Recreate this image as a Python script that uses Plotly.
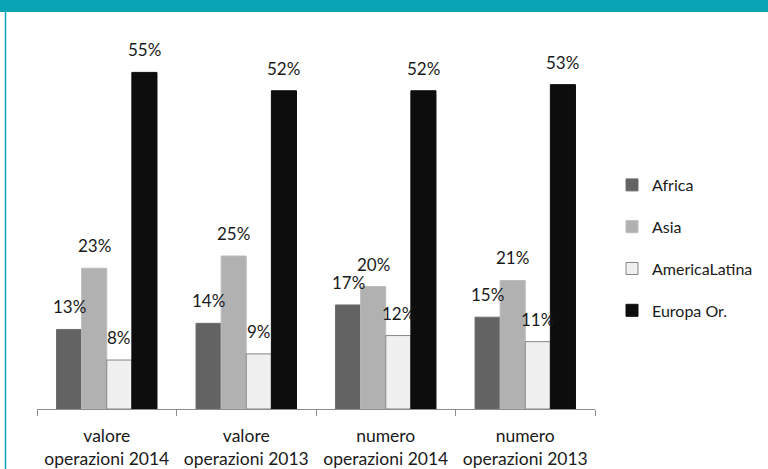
import plotly.graph_objects as go

categories = ["valore<br>operazioni 2014", "valore<br>operazioni 2013",
              "numero<br>operazioni 2014", "numero<br>operazioni 2013"]
series_names = ["Africa", "Asia", "AmericaLatina", "Europa Or."]
africa = [13, 14, 17, 15]
asia = [23, 25, 20, 21]
america_latina = [8, 9, 12, 11]
europa_or = [55, 52, 52, 53]
series_values = [africa, asia, america_latina, europa_or]

fill_colors = ["#636363", "#b1b1b1", "#f0f0f0", "#0d0d0d"]
line_colors = ["#6e6e6e", "#bcbcbc", "#858585", "#0d0d0d"]

FONT = "Lato, 'DejaVu Sans', sans-serif"
W, H = 768, 469
ML, MR, MT, MB = 37, 173, 30, 60
BARGAP = 0.28

fig = go.Figure()
for j, (name, vals) in enumerate(zip(series_names, series_values)):
    fig.add_trace(go.Bar(
        name=name, x=categories, y=vals,
        marker=dict(color=fill_colors[j], line=dict(color=line_colors[j], width=1)),
        legendgroup=name,
    ))

# value labels above bars, positioned through the category axis
n = len(series_names)
w = (1 - BARGAP) / n
annotations = []
for j, vals in enumerate(series_values):
    for i, v in enumerate(vals):
        annotations.append(dict(
            x=i + (j - (n - 1) / 2) * w, y=v, xref="x", yref="y",
            text=f"{v}%", showarrow=False, yanchor="bottom", yshift=10,
            font=dict(family=FONT, size=17, color="#1a1a1a"),
        ))

plot_w = W - ML - MR
plot_h = H - MT - MB
def px_x(px):
    return (px - ML) / plot_w
def px_y(py):
    return (H - MB - py) / plot_h

shapes = [
    dict(type="rect", xref="paper", yref="paper",
         x0=px_x(0), x1=px_x(W), y0=px_y(12), y1=px_y(0),
         fillcolor="#0aa5b5", line=dict(width=0), layer="above"),
    dict(type="line", xref="paper", yref="paper",
         x0=px_x(5.5), x1=px_x(5.5), y0=px_y(H), y1=px_y(0),
         line=dict(color="#0aa5b5", width=1.5)),
]

fig.update_layout(
    width=W, height=H,
    margin=dict(l=ML, r=MR, t=MT, b=MB, autoexpand=False),
    paper_bgcolor="white", plot_bgcolor="white",
    barmode="group", bargap=BARGAP, bargroupgap=0,
    font=dict(family=FONT, size=16, color="#1a1a1a"),
    showlegend=True,
    legend=dict(x=px_x(612), xanchor="left", y=px_y(248), yanchor="middle",
                font=dict(family=FONT, size=16, color="#1a1a1a"),
                tracegroupgap=18, bgcolor="rgba(0,0,0,0)", itemwidth=30),
    annotations=annotations,
    shapes=shapes,
    xaxis=dict(showline=True, linecolor="#8c8c8c", linewidth=1,
               ticks="outside", tickson="boundaries", ticklen=6,
               tickcolor="#8c8c8c", tickwidth=1, showgrid=False,
               ticklabelstandoff=11, automargin=False,
               tickfont=dict(family=FONT, size=17.5, color="#1a1a1a")),
    yaxis=dict(visible=False, range=[0, plot_h / 6.12], showgrid=False,
               automargin=False),
)

fig.write_html("out.html", config={"displayModeBar": False},
               post_script="document.body.style.margin='0';document.body.style.overflow='hidden';")
